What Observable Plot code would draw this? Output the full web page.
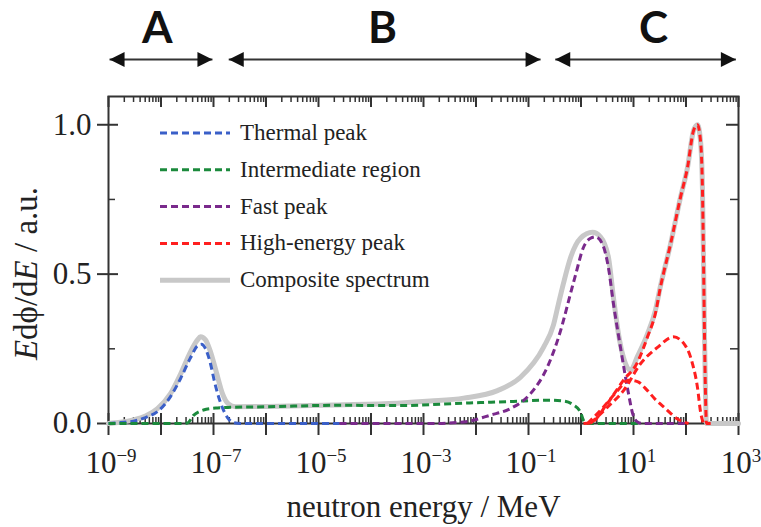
<!DOCTYPE html>
<html>
<head>
<meta charset="utf-8">
<script src="https://cdn.jsdelivr.net/npm/d3@7"></script>
<script src="https://cdn.jsdelivr.net/npm/@observablehq/plot@0.6"></script>
<style>
  html, body { margin: 0; padding: 0; background: #fff; }
  #chart { width: 761px; height: 527px; }
</style>
</head>
<body>
<div id="chart"></div>
<script>
// Neutron spectrum components: log10(E / MeV) and E·dφ/dE in arbitrary units
const thermalLogE = [-9, -8.771, -8.524, -8.295, -8.067, -7.819, -7.629, -7.438, -7.305, -7.229, -7.152, -7.057, -6.981, -6.867, -6.733, -6.619, -6.486, -4.6];
const thermalVal  = [0, 0.003, 0.008, 0.02, 0.04, 0.09, 0.15, 0.22, 0.26, 0.265, 0.25, 0.2, 0.14, 0.07, 0.02, 0.003, 0, 0];

const interLogE = [-9, -7.629, -7.495, -7.381, -7.19, -6.924, -6.676, -5.971, -4.638, -3.495, -2.238, -1.286, -0.638, -0.333, -0.143, -0.01, 0.048, 0.105, 1.133];
const interVal  = [0, 0, 0.002, 0.027, 0.045, 0.052, 0.054, 0.056, 0.061, 0.06, 0.068, 0.074, 0.078, 0.075, 0.062, 0.038, 0.01, 0, 0];

const fastLogE = [-4.6, -2.867, -2.238, -1.724, -1.343, -0.962, -0.638, -0.39, -0.2, -0.1, 0.048, 0.181, 0.276, 0.41, 0.524, 0.619, 0.752, 0.848, 0.905, 0.981, 1.076, 1.171, 2.0];
const fastVal  = [0, 0, 0.005, 0.028, 0.05, 0.1, 0.19, 0.31, 0.435, 0.5, 0.59, 0.62, 0.625, 0.6, 0.52, 0.4, 0.255, 0.155, 0.1, 0.035, 0.005, 0, 0];

const highPeakLogE = [0.048, 0.181, 0.505, 0.81, 1.076, 1.267, 1.419, 1.514, 1.705, 1.895, 2.029, 2.143, 2.219, 2.276, 2.314, 2.333, 2.352, 2.371, 2.39, 2.5];
const highPeakVal  = [0, 0.002, 0.068, 0.145, 0.205, 0.29, 0.37, 0.457, 0.6, 0.757, 0.857, 0.98, 1.0, 0.947, 0.78, 0.556, 0.3, 0.1, 0, 0];

const highBroadLogE = [0.181, 0.505, 0.81, 1.133, 1.457, 1.762, 1.99, 2.124, 2.219, 2.276, 2.333];
const highBroadVal  = [0, 0.055, 0.11, 0.2, 0.255, 0.29, 0.26, 0.2, 0.12, 0.04, 0];

const highLowLogE = [0.124, 0.429, 0.695, 0.905, 1.076, 1.267, 1.419, 1.61, 1.838, 2.048];
const highLowVal  = [0, 0.055, 0.11, 0.145, 0.14, 0.11, 0.08, 0.05, 0.015, 0];

const compositeLogE = [-9, -8.771, -8.524, -8.295, -8.067, -7.819, -7.629, -7.438, -7.305, -7.248, -7.152, -7.057, -6.943, -6.829, -6.714, -6.581, -5.971, -4.638, -3.495, -2.867, -2.238, -1.59, -1.152, -0.714, -0.524, -0.43, -0.333, -0.2, -0.01, 0.219, 0.371, 0.524, 0.619, 0.714, 0.81, 0.943, 1.076, 1.267, 1.419, 1.514, 1.705, 1.895, 2.029, 2.143, 2.219, 2.276, 2.314, 2.333, 2.352, 2.371, 2.39, 3.0];
const compositeVal  = [0, 0.004, 0.012, 0.025, 0.05, 0.1, 0.165, 0.24, 0.28, 0.29, 0.28, 0.24, 0.17, 0.1, 0.065, 0.056, 0.057, 0.062, 0.068, 0.075, 0.085, 0.11, 0.155, 0.255, 0.33, 0.4, 0.47, 0.555, 0.62, 0.64, 0.625, 0.555, 0.42, 0.3, 0.22, 0.178, 0.225, 0.3, 0.38, 0.46, 0.6, 0.757, 0.857, 0.98, 1.0, 0.947, 0.78, 0.556, 0.3, 0.1, 0, 0];

// Legend entries
const legendLabels = ["Thermal peak", "Intermediate region", "Fast peak", "High-energy peak", "Composite spectrum"];
const legendColors = ["#3a5fc8", "#1b8a3c", "#7a2a8c", "#ff1f1f", "#c8c8c8"];

// Energy regions annotated above the plot (log10 MeV)
const regionNames = ["A", "B", "C"];
const regionFrom  = [-8.98, -6.71, -0.49];
const regionTo    = [-7.02, -0.77, 2.95];
const regionLabelAt = [-8.07, -3.78, 1.38];

// Axis ticks
const xLabelExps = [-9, -7, -5, -3, -1, 1, 3];
const yTicks = [0, 0.5, 1.0];
const yTickLabels = ["0.0", "0.5", "1.0"];
const yMinorTicks = [0.25, 0.75];

const yMax = 1.0946;
const serif = "'Liberation Serif', 'Times New Roman', serif";
const ink = "#333";

const toRows = (logE, val) => logE.map((e, i) => ({E: 10 ** e, v: val[i]}));
const thermal = toRows(thermalLogE, thermalVal);
const inter = toRows(interLogE, interVal);
const fast = toRows(fastLogE, fastVal);
const highPeak = toRows(highPeakLogE, highPeakVal);
const highBroad = toRows(highBroadLogE, highBroadVal);
const highLow = toRows(highLowLogE, highLowVal);
const composite = toRows(compositeLogE, compositeVal);

const decades = d3.range(-9, 4).map(k => 10 ** k);
const minorX = d3.range(-9, 3).flatMap(k => d3.range(2, 10).map(m => m * 10 ** k));

const dashed = (data, color) => Plot.line(data, {
  x: "E", y: "v", stroke: color, strokeWidth: 3, strokeDasharray: "7,4",
  curve: "monotone-x", strokeLinecap: "butt"
});

// x tick labels as 10 with a raised exponent
function xTickLabels(index, scales, values, dims) {
  const g = d3.create("svg:g")
    .attr("font-family", serif).attr("fill", "#222");
  const y0 = dims.height - dims.marginBottom + 50;
  for (const k of xLabelExps) {
    const t = g.append("text")
      .attr("x", scales.x(10 ** k) + 3)
      .attr("y", y0)
      .attr("text-anchor", "middle")
      .attr("font-size", 31);
    t.append("tspan").text("10");
    t.append("tspan").attr("dy", -11).attr("font-size", 19)
      .text(k < 0 ? "\u2212" + (-k) : String(k));
  }
  return g.node();
}

// y axis title with italic E
function yTitle(index, scales, values, dims) {
  const cy = (dims.marginTop + dims.height - dims.marginBottom) / 2 + 14;
  const t = d3.create("svg:text")
    .attr("transform", `translate(37,${cy}) rotate(-90)`)
    .attr("text-anchor", "middle")
    .attr("font-family", serif)
    .attr("font-size", 33)
    .attr("fill", "#222");
  t.append("tspan").attr("font-style", "italic").text("E");
  t.append("tspan").text("d\u03d5/d");
  t.append("tspan").attr("font-style", "italic").text("E");
  t.append("tspan").text(" / a.u.");
  return t.node();
}

// legend with line samples in the upper left of the frame
function legend(index, scales, values, dims) {
  const g = d3.create("svg:g")
    .attr("font-family", serif).attr("font-size", 23)
    .attr("fill", "#222").attr("text-anchor", "start");
  legendLabels.forEach((label, i) => {
    const y = dims.marginTop + 37 + i * 36.8;
    const isComposite = i === legendLabels.length - 1;
    g.append("line")
      .attr("x1", dims.marginLeft + 52).attr("x2", dims.marginLeft + 122)
      .attr("y1", y).attr("y2", y)
      .attr("stroke", legendColors[i])
      .attr("stroke-width", isComposite ? 5 : 3)
      .attr("stroke-dasharray", isComposite ? null : "7,4");
    g.append("text").attr("x", dims.marginLeft + 132).attr("y", y + 7).text(label);
  });
  return g.node();
}

// filled arrowheads with the tip at the anchor point
const headRight = {draw(ctx) { ctx.moveTo(0, 0); ctx.lineTo(-15, -7.5); ctx.lineTo(-15, 7.5); ctx.closePath(); }};
const headLeft = {draw(ctx) { ctx.moveTo(0, 0); ctx.lineTo(15, -7.5); ctx.lineTo(15, 7.5); ctx.closePath(); }};

const regions = regionNames.map((n, i) => ({name: n, from: 10 ** regionFrom[i], to: 10 ** regionTo[i], at: 10 ** regionLabelAt[i]}));

const chart = Plot.plot({
  width: 761,
  height: 527,
  marginLeft: 108,
  marginRight: 23,
  marginTop: 96,
  marginBottom: 104,
  x: {type: "log", domain: [1e-9, 1e3], axis: null},
  y: {domain: [0, yMax], axis: null},
  style: {background: "#fff", overflow: "visible"},
  marks: [
    // region annotations
    Plot.link(regions, {x1: "from", x2: "to", y1: yMax, y2: yMax, dy: -37, stroke: ink, strokeWidth: 2.2}),
    Plot.dot(regions, {x: "from", y: yMax, dy: -37, symbol: headLeft, fill: "#111", stroke: null, r: 5}),
    Plot.dot(regions, {x: "to", y: yMax, dy: -37, symbol: headRight, fill: "#111", stroke: null, r: 5}),
    Plot.text(regions, {x: "at", y: yMax, dy: -54, text: "name", lineAnchor: "bottom",
      fontFamily: "Lato, 'Open Sans', sans-serif", fontWeight: 700, fontSize: 44, fill: "#111"}),

    // frame and ticks
    Plot.frame({stroke: ink, strokeWidth: 2}),
    Plot.ruleX(decades, {x: d => d, y1: 0, y2: 0, insetTop: -10, insetBottom: -12, stroke: ink, strokeWidth: 2}),
    Plot.ruleX(minorX, {x: d => d, y1: 0, y2: 0, insetTop: -6, insetBottom: 0, stroke: ink, strokeWidth: 1.5}),
    Plot.ruleX(decades, {x: d => d, y1: yMax, y2: yMax, insetTop: 0, insetBottom: -11, stroke: ink, strokeWidth: 2}),
    Plot.ruleX(minorX, {x: d => d, y1: yMax, y2: yMax, insetTop: 0, insetBottom: -6, stroke: ink, strokeWidth: 1.5}),
    Plot.ruleY(yTicks, {y: d => d, x1: 1e-9, x2: 1e-9, insetLeft: -11, insetRight: -10, stroke: ink, strokeWidth: 2}),
    Plot.ruleY(yMinorTicks, {y: d => d, x1: 1e-9, x2: 1e-9, insetLeft: 0, insetRight: -7, stroke: ink, strokeWidth: 1.5}),
    Plot.ruleY(yTicks, {y: d => d, x1: 1e3, x2: 1e3, insetLeft: -12, insetRight: 0, stroke: ink, strokeWidth: 2}),
    Plot.ruleY(yMinorTicks, {y: d => d, x1: 1e3, x2: 1e3, insetLeft: -8, insetRight: 0, stroke: ink, strokeWidth: 1.5}),

    // tick labels and titles
    Plot.text(yTicks, {y: d => d, frameAnchor: "left", text: (d, i) => yTickLabels[i], dx: -17,
      textAnchor: "end", lineAnchor: "middle", fontFamily: serif, fontSize: 31, fill: "#222"}),
    xTickLabels,
    Plot.text(["neutron energy / MeV"], {frameAnchor: "bottom", text: d => d, dy: 93, lineAnchor: "bottom",
      fontFamily: serif, fontSize: 31, fill: "#222"}),
    yTitle,

    // spectrum curves
    Plot.line(composite, {x: "E", y: "v", stroke: "#c8c8c8", strokeWidth: 5, curve: "monotone-x", strokeLinejoin: "round"}),
    dashed(thermal, legendColors[0]),
    dashed(inter, legendColors[1]),
    dashed(fast, legendColors[2]),
    dashed(highLow, legendColors[3]),
    dashed(highBroad, legendColors[3]),
    dashed(highPeak, legendColors[3]),

    legend
  ]
});

document.getElementById("chart").appendChild(chart);
</script>
</body>
</html>
